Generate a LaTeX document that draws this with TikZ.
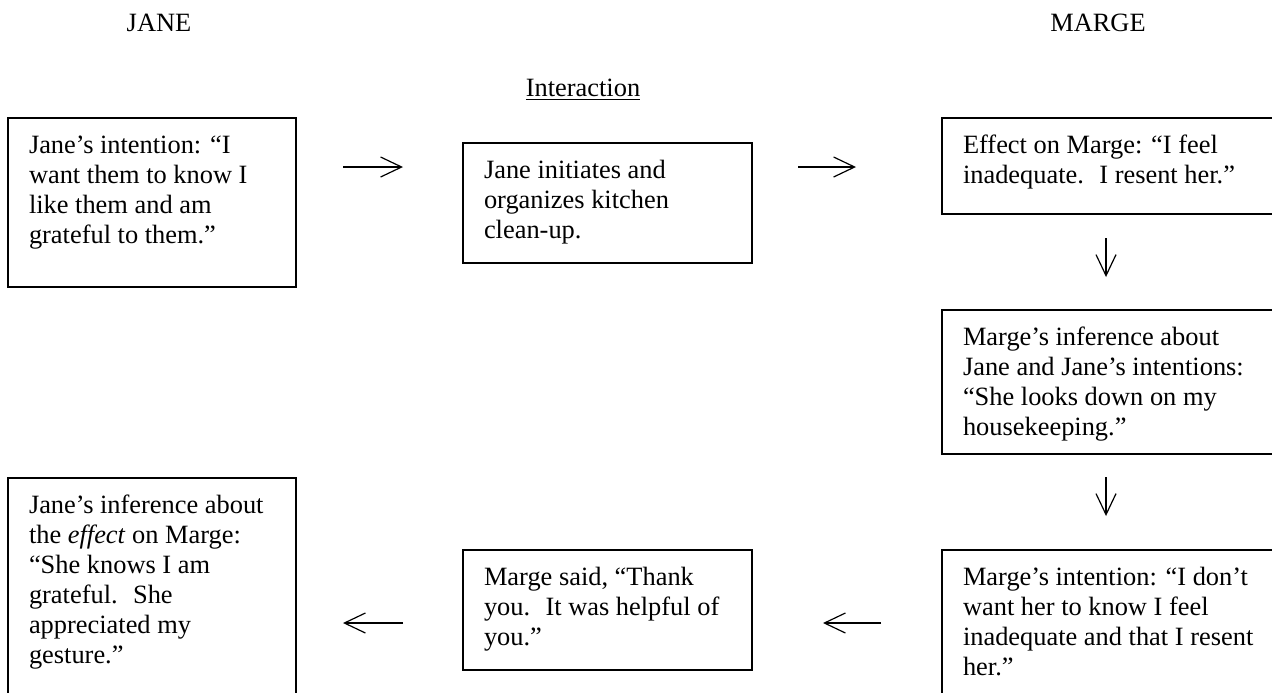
\documentclass[tikz,border=0pt]{standalone}
\usepackage{fontspec}
\setmainfont{Liberation Serif}
\usetikzlibrary{arrows.meta}
\newcommand\bxtext[3]{\vbox to #2{\hsize=#1\relax\parindent=0pt\parskip=0pt\rightskip=0pt plus 4em\relax\hyphenpenalty=10000\baselineskip=15pt\lineskiplimit=-20pt\leavevmode\vrule height 17.5pt depth 0pt width 0pt\relax #3\par\vfil}}
\tikzset{
  txtbox/.style={draw, line width=0.65pt, inner xsep=10.5pt, inner ysep=0pt, anchor=north west, outer sep=0pt},
  arr/.style={line width=0.6pt, -{Straight Barb[length=10.5pt,width=10pt,line width=0.6pt]}},
  title/.style={anchor=base, inner sep=0pt}
}
\begin{document}
\begin{tikzpicture}[x=0.5pt,y=-0.5pt,font=\fontsize{13.2pt}{15pt}\selectfont]
\useasboundingbox (0,0) rectangle (1272,692);
\clip (0,0) rectangle (1272,692);
\node[title] (jane) at (159,31) {JANE};
\node[title] (marge) at (1098,31) {MARGE};
\node[title] (inter) at (583,96) {\underline{Interaction}};

\node[txtbox] (b1) at (8,118) {\bxtext{123pt}{84.5pt}{Jane’s intention: “I\par want them to know I\par like them and am\par grateful to them.”}};
\node[txtbox] (b2) at (463,143) {\bxtext{123.5pt}{60pt}{Jane initiates and\par organizes kitchen\par clean-up.}};
\node[txtbox] (b3) at (942,118) {\bxtext{153pt}{48pt}{Effect on Marge: “I feel\par inadequate.~ I resent her.”}};
\node[txtbox] (b4) at (942,310) {\bxtext{153pt}{72pt}{Marge’s inference about\par Jane and Jane’s intentions:\par “She looks down on my\par housekeeping.”}};
\node[txtbox] (b5) at (8,478) {\bxtext{123pt}{111pt}{Jane’s inference about\par the \textit{effect} on Marge:\par “She knows I am\par grateful.~ She\par appreciated my\par gesture.”}};
\node[txtbox] (b6) at (463,550) {\bxtext{123.5pt}{60pt}{Marge said, “Thank\par you.~ It was helpful of\par you.”}};
\node[txtbox] (b7) at (942,550) {\bxtext{153pt}{75pt}{Marge’s intention: “I don’t\par want her to know I feel\par inadequate and that I resent\par her.”}};

\coordinate (rowtop) at (0,167);
\coordinate (rowbot) at (0,623);
\coordinate (colr) at (1106,0);

\draw[arr, shorten <=23.5pt, shorten >=30pt] (b1.east |- rowtop) -- (b2.west |- rowtop);
\draw[arr, shorten <=23pt, shorten >=43pt] (b2.east |- rowtop) -- (b3.west |- rowtop);
\draw[arr, shorten <=12pt, shorten >=16.5pt] (b3.south -| colr) -- (b4.north -| colr);
\draw[arr, shorten <=11.5pt, shorten >=17pt] (b4.south -| colr) -- (b7.north -| colr);
\draw[arr, shorten <=30.5pt, shorten >=35.5pt] (b7.west |- rowbot) -- (b6.east |- rowbot);
\draw[arr, shorten <=30pt, shorten >=23.5pt] (b6.west |- rowbot) -- (b5.east |- rowbot);
\end{tikzpicture}
\end{document}
